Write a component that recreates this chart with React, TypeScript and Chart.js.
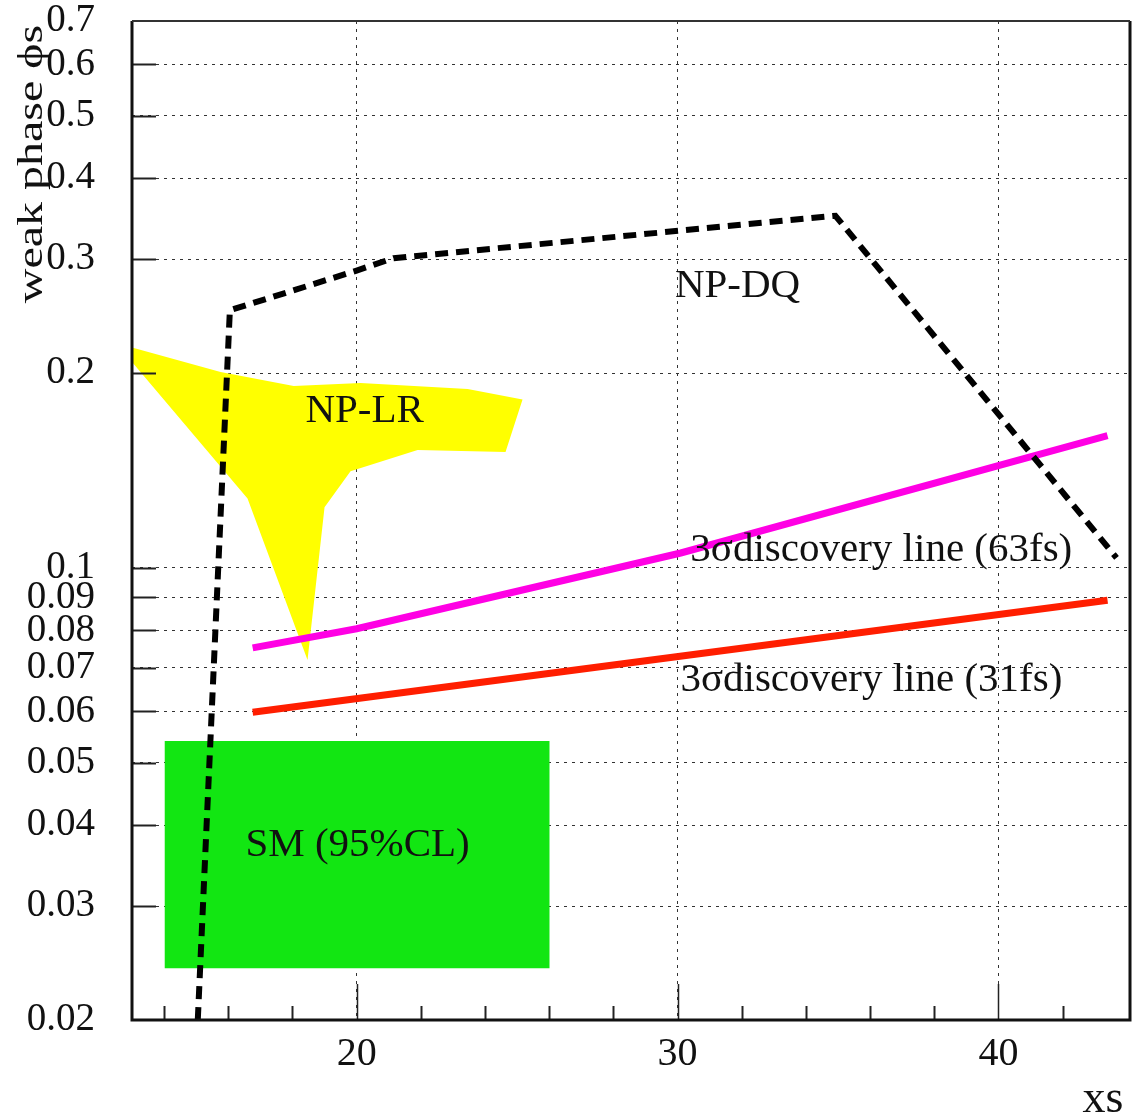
import React, { useEffect, useRef } from "react";
import { Chart, registerables } from "chart.js";

Chart.register(...registerables);

// ---- Data ----
const yTickValues = [0.02, 0.03, 0.04, 0.05, 0.06, 0.07, 0.08, 0.09, 0.1, 0.2, 0.3, 0.4, 0.5, 0.6, 0.7];
const yTickLabels = ["0.02", "0.03", "0.04", "0.05", "0.06", "0.07", "0.08", "0.09", "0.1", "0.2", "0.3", "0.4", "0.5", "0.6", "0.7"];
const xTickValues = [20, 30, 40];
const xMinorTicks = [14, 16, 18, 22, 24, 26, 28, 32, 34, 36, 38, 42];

// NP-DQ (dashed boundary)
const npDqX = [15.05, 16.05, 20.0, 21.15, 34.92, 43.68];
const npDqY = [0.02, 0.25, 0.288, 0.301, 0.35, 0.1036];

// 3 sigma discovery line (63fs)
const disc63X = [16.76, 20.0, 30.1, 43.4];
const disc63Y = [0.0752, 0.0805, 0.1054, 0.16];

// 3 sigma discovery line (31fs)
const disc31X = [16.76, 43.4];
const disc31Y = [0.0598, 0.0891];

// NP-LR region (polygon)
const npLrX = [13.0, 15.76, 18.04, 20.12, 23.46, 25.17, 24.64, 21.9, 19.81, 19.0, 18.47, 16.6, 13.0];
const npLrY = [0.219, 0.2007, 0.191, 0.193, 0.189, 0.182, 0.151, 0.152, 0.141, 0.124, 0.072, 0.128, 0.208];

// SM (95%CL) region (rectangle)
const smX = [14.02, 26.01, 26.01, 14.02];
const smY = [0.054, 0.054, 0.02404, 0.02404];

// Text annotations (data coordinates)
const annoTexts = ["NP-DQ", "NP-LR", "SM (95%CL)", "3σdiscovery line (63fs)", "3σdiscovery line (31fs)"];
const annoX = [31.87, 20.25, 20.03, 30.4, 30.09];
const annoY = [0.2726, 0.1747, 0.0373, 0.1065, 0.0671];
const annoAlign = ["center", "center", "center", "left", "left"];

const SERIF = "'Liberation Serif', 'DejaVu Serif', 'Times New Roman', serif";

const zip = (xs: number[], ys: number[]) => xs.map((x, i) => ({ x, y: ys[i] }));

const decorPlugin = {
  id: "decor",
  afterDatasetsDraw(chart: any) {
    const { ctx, chartArea: a, scales } = chart;
    const xs = scales.x;
    const ys = scales.y;
    ctx.save();
    // inner ticks on x axis
    ctx.strokeStyle = "#222";
    ctx.lineWidth = 2;
    xMinorTicks.forEach((v) => {
      const px = Math.round(xs.getPixelForValue(v)) + 0.5;
      ctx.beginPath();
      ctx.moveTo(px, a.bottom);
      ctx.lineTo(px, a.bottom - 14);
      ctx.stroke();
    });
    ctx.lineWidth = 1.5;
    xTickValues.forEach((v) => {
      const px = Math.round(xs.getPixelForValue(v)) + 0.5;
      ctx.beginPath();
      ctx.moveTo(px, a.bottom);
      ctx.lineTo(px, a.bottom - 36);
      ctx.stroke();
    });
    // inner ticks on y axis
    ctx.lineWidth = 2;
    yTickValues.forEach((v, i) => {
      if (i === 0 || i === yTickValues.length - 1) return;
      const py = Math.round(ys.getPixelForValue(v)) + 0.5;
      ctx.beginPath();
      ctx.moveTo(a.left, py);
      ctx.lineTo(a.left + 24, py);
      ctx.stroke();
    });
    // annotations
    ctx.fillStyle = "#111";
    ctx.font = `41px ${SERIF}`;
    ctx.textBaseline = "middle";
    annoTexts.forEach((t, i) => {
      ctx.textAlign = annoAlign[i] as CanvasTextAlign;
      ctx.fillText(t, xs.getPixelForValue(annoX[i]), ys.getPixelForValue(annoY[i]));
    });
    // frame
    ctx.strokeStyle = "#111";
    ctx.lineWidth = 3;
    ctx.beginPath();
    ctx.moveTo(a.left, a.top);
    ctx.lineTo(a.left, a.bottom);
    ctx.lineTo(a.right, a.bottom);
    ctx.lineTo(a.right, a.top);
    ctx.stroke();
    ctx.lineWidth = 2;
    ctx.strokeStyle = "#333";
    ctx.beginPath();
    ctx.moveTo(a.left, a.top);
    ctx.lineTo(a.right, a.top);
    ctx.stroke();
    ctx.restore();
  },
  afterDraw(chart: any) {
    const { ctx } = chart;
    ctx.save();
    ctx.fillStyle = "#111";
    // y-axis title
    ctx.translate(33, 164);
    ctx.rotate(-Math.PI / 2);
    ctx.scale(1, 0.75);
    ctx.font = `48px ${SERIF}`;
    ctx.textAlign = "center";
    ctx.textBaseline = "middle";
    ctx.fillText("weak phase ϕs", 0, 0);
    ctx.restore();
    // x-axis title
    ctx.save();
    ctx.fillStyle = "#111";
    ctx.font = `46px ${SERIF}`;
    ctx.textAlign = "center";
    ctx.textBaseline = "alphabetic";
    ctx.fillText("xs", 1103, 1112);
    ctx.restore();
  },
};

export default function App() {
  const ref = useRef<HTMLCanvasElement | null>(null);
  useEffect(() => {
    if (!ref.current) return;
    const chart = new Chart(ref.current, {
      type: "scatter",
      data: {
        datasets: [
          {
            data: zip(npDqX, npDqY),
            showLine: true,
            borderColor: "#000",
            borderWidth: 6,
            borderDash: [13, 8],
            pointRadius: 0,
            fill: false,
            order: 0,
          },
          {
            data: zip(disc63X, disc63Y),
            showLine: true,
            borderColor: "#ff00e4",
            borderWidth: 7,
            pointRadius: 0,
            fill: false,
            order: 1,
          },
          {
            data: zip(disc31X, disc31Y),
            showLine: true,
            borderColor: "#ff1e00",
            borderWidth: 7,
            pointRadius: 0,
            fill: false,
            order: 2,
          },
          {
            data: zip(npLrX, npLrY),
            showLine: true,
            borderWidth: 0,
            borderColor: "rgba(0,0,0,0)",
            backgroundColor: "#ffff00",
            pointRadius: 0,
            fill: "shape",
            order: 3,
          } as any,
          {
            data: zip(smX, smY),
            showLine: true,
            borderWidth: 0,
            borderColor: "rgba(0,0,0,0)",
            backgroundColor: "#12e612",
            pointRadius: 0,
            fill: "shape",
            order: 4,
          } as any,
        ],
      },
      options: {
        animation: false,
        responsive: false,
        devicePixelRatio: 1,
        events: [],
        layout: { padding: { top: 21, right: 8, bottom: 0, left: 0 } },
        plugins: {
          legend: { display: false },
          tooltip: { enabled: false },
        },
        scales: {
          x: {
            type: "linear",
            min: 13,
            max: 44.1,
            afterBuildTicks: (s: any) => {
              s.ticks = xTickValues.map((v) => ({ value: v }));
            },
            afterFit: (s: any) => {
              s.height = 100;
              s.paddingLeft = 0;
              s.paddingRight = 0;
            },
            ticks: {
              autoSkip: false,
              maxRotation: 0,
              padding: 10,
              color: "#111",
              font: { family: SERIF, size: 40 },
              callback: (v: any) => String(v),
            },
            grid: { color: "#333", lineWidth: 1, drawTicks: false },
            border: { display: false, dash: [3, 5] },
          },
          y: {
            type: "logarithmic",
            min: 0.02,
            max: 0.7,
            afterBuildTicks: (s: any) => {
              s.ticks = yTickValues.map((v) => ({ value: v }));
            },
            afterFit: (s: any) => {
              s.width = 132;
              s.paddingTop = 0;
              s.paddingBottom = 0;
            },
            ticks: {
              autoSkip: false,
              padding: 37,
              color: "#111",
              font: { family: SERIF, size: 39 },
              callback: (v: any) => {
                const i = yTickValues.findIndex((t) => Math.abs(t - v) < 1e-9);
                return i >= 0 ? yTickLabels[i] : "";
              },
            },
            grid: { color: "#333", lineWidth: 1, drawTicks: false },
            border: { display: false, dash: [3, 5] },
          },
        },
      },
      plugins: [decorPlugin],
    } as any);
    return () => chart.destroy();
  }, []);
  return (
    <div style={{ position: "absolute", left: 0, top: 0, width: 1138, height: 1120, background: "#fff" }}>
      <canvas ref={ref} width={1138} height={1120} style={{ display: "block" }} />
    </div>
  );
}
